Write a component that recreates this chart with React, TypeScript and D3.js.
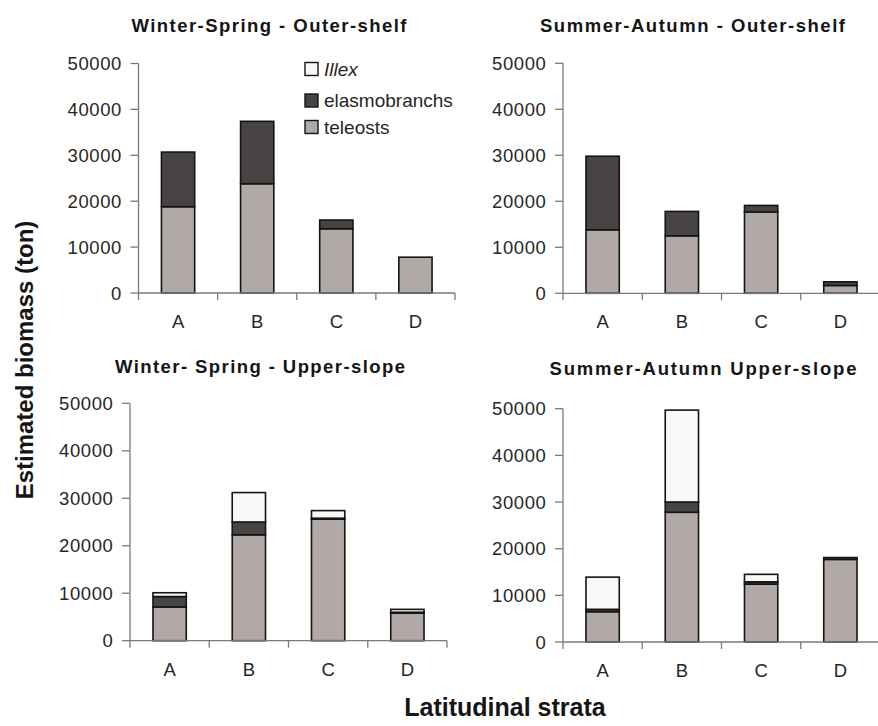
import React from 'react';
import * as d3 from 'd3';

// strata on the x axis, panels in reading order
const strata = ['A', 'B', 'C', 'D'];
const panelTitles = [
  'Winter-Spring - Outer-shelf',
  'Summer-Autumn - Outer-shelf',
  'Winter- Spring - Upper-slope',
  'Summer-Autumn  Upper-slope',
];
const yTicks = [0, 10000, 20000, 30000, 40000, 50000];

// biomass (ton) per panel, per stratum
const teleosts = [
  [18800, 23800, 14000, 7800],
  [13800, 12500, 17700, 1700],
  [7100, 22300, 25600, 5800],
  [6500, 27800, 12400, 17700],
];
const elasmobranchs = [
  [11900, 13600, 1900, 0],
  [16000, 5300, 1400, 800],
  [2200, 2700, 200, 200],
  [500, 2200, 500, 400],
];
const illex = [
  [0, 0, 0, 0],
  [0, 0, 0, 0],
  [800, 6200, 1600, 600],
  [6900, 19700, 1600, 0],
];

const seriesNames = ['teleosts', 'elasmobranchs', 'Illex'];
const seriesColors = ['#b1a9a6', '#484443', '#f8f8f8'];
const legendOrder = [2, 1, 0];

// panel geometry (pixels)
const layout = [
  { x0: 138.5, x1: 455, yTop: 63.5, yBase: 293, tx: 269, ty: 31.5, tw: 275 },
  { x0: 563, x1: 880, yTop: 63.3, yBase: 293.3, tx: 692.5, ty: 31.5, tw: 305 },
  { x0: 130, x1: 447, yTop: 403.3, yBase: 640.7, tx: 260, ty: 373, tw: 290 },
  { x0: 563, x1: 880, yTop: 408.7, yBase: 642, tx: 703, ty: 375, tw: 307 },
];

const FONT = "Arial, 'Liberation Sans', Helvetica, sans-serif";

const Panel: React.FC<{ idx: number }> = ({ idx }) => {
  const L = layout[idx];
  const x = d3.scaleBand<string>().domain(strata).range([L.x0, L.x1]).paddingInner(0.58).paddingOuter(0.29);
  const y = d3.scaleLinear().domain([0, 50000]).range([L.yBase, L.yTop]);
  const step = x.step();

  const rows = strata.map((s, i) => ({
    s,
    teleosts: teleosts[idx][i],
    elasmobranchs: elasmobranchs[idx][i],
    Illex: illex[idx][i],
  }));
  const stacked = d3.stack<any>().keys(seriesNames)(rows);

  return (
    <g>
      <text x={L.tx} y={L.ty} textAnchor="middle" fontSize={18.5} fontWeight="bold" fill="#151515"
        textLength={L.tw} lengthAdjust="spacing">{panelTitles[idx]}</text>

      {/* y axis */}
      <line x1={L.x0} x2={L.x0} y1={y(0)} y2={y(50000)} stroke="#7a7a7a" strokeWidth={1.3} />
      {yTicks.map(t => (
        <g key={t}>
          <line x1={L.x0 - 8} x2={L.x0} y1={y(t)} y2={y(t)} stroke="#7a7a7a" strokeWidth={1.3} />
          <text x={L.x0 - 16.5} y={y(t)} dy="0.36em" textAnchor="end" fontSize={18.5} fill="#262626"
            letterSpacing={0.6}>{t}</text>
        </g>
      ))}

      {/* bars */}
      {stacked.map((ser, si) => ser.map((d, i) => {
        const v = d[1] - d[0];
        if (v <= 0) return null;
        return (
          <rect key={`${si}-${i}`} x={x(strata[i])!} width={x.bandwidth()} y={y(d[1])} height={y(d[0]) - y(d[1])}
            fill={seriesColors[si]} stroke="#141414" strokeWidth={1.6} />
        );
      }))}

      {/* x axis */}
      <line x1={L.x0} x2={L.x1} y1={L.yBase} y2={L.yBase} stroke="#7a7a7a" strokeWidth={1.3} />
      {d3.range(strata.length + 1).map(k => (
        <line key={k} x1={L.x0 + k * step} x2={L.x0 + k * step} y1={L.yBase} y2={L.yBase + 7}
          stroke="#7a7a7a" strokeWidth={1.3} />
      ))}
      {strata.map(s => (
        <text key={s} x={x(s)! + x.bandwidth() / 2} y={L.yBase + 35} textAnchor="middle" fontSize={18.5}
          fill="#262626">{s}</text>
      ))}
    </g>
  );
};

const App: React.FC = () => {
  const legendY = [69, 100.5, 127];
  return (
    <div style={{ position: 'absolute', left: 0, top: 0 }}>
      <svg width={878} height={726} viewBox="0 0 878 726" fontFamily={FONT} style={{ display: 'block', background: '#fff' }}>
        {[0, 1, 2, 3].map(i => <Panel key={i} idx={i} />)}

        {/* legend */}
        {legendOrder.map((si, k) => (
          <g key={si}>
            <rect x={305} y={legendY[k] - 6.5} width={13} height={13} fill={seriesColors[si]} stroke="#141414" strokeWidth={1.4} />
            <text x={324} y={legendY[k] + 6.5} fontSize={19} fill="#262626" fontStyle={si === 2 ? 'italic' : 'normal'}>
              {seriesNames[si]}
            </text>
          </g>
        ))}

        <text transform="translate(33,360) rotate(-90)" textAnchor="middle" fontSize={24} fontWeight="bold" fill="#151515">
          Estimated biomass (ton)
        </text>
        <text x={505} y={716} textAnchor="middle" fontSize={25} fontWeight="bold" fill="#151515">
          Latitudinal strata
        </text>
      </svg>
    </div>
  );
};

export default App;
